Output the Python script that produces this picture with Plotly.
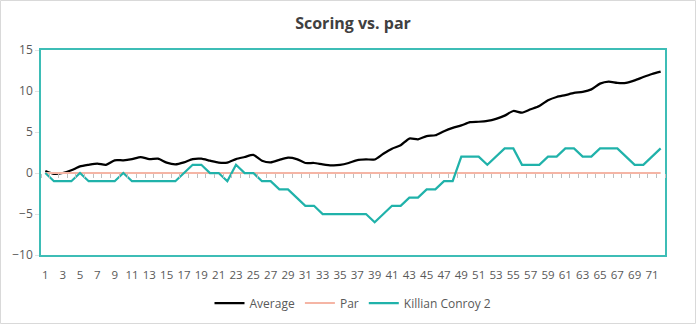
import plotly.graph_objects as go

holes = list(range(1, 73))
average = [0.25, -0.1, 0.0, 0.33, 0.8, 1.0, 1.15, 1.0, 1.55, 1.55, 1.7, 1.95, 1.7, 1.75, 1.27, 1.06, 1.3, 1.7,
           1.75, 1.5, 1.27, 1.27, 1.7, 1.95, 2.2, 1.5, 1.3, 1.6, 1.87, 1.7, 1.22, 1.22, 1.06, 0.94, 0.98, 1.22,
           1.58, 1.66, 1.65, 2.35, 2.97, 3.38, 4.2, 4.1, 4.5, 4.6, 5.1, 5.5, 5.8, 6.2, 6.25, 6.35, 6.6, 7.0,
           7.56, 7.36, 7.77, 8.17, 8.87, 9.27, 9.5, 9.76, 9.9, 10.2, 10.9, 11.15, 11.0, 11.0, 11.3, 11.7, 12.07, 12.37]
par = [0] * 72
killian = [0, -1, -1, -1, 0, -1, -1, -1, -1, 0, -1, -1, -1, -1, -1, -1, 0, 1, 1, 0, 0, -1, 1, 0, 0, -1, -1, -2,
           -2, -3, -4, -4, -5, -5, -5, -5, -5, -5, -6, -5, -4, -4, -3, -3, -2, -2, -1, -1, 2, 2, 2, 1, 2, 3,
           3, 1, 1, 1, 2, 2, 3, 3, 2, 2, 3, 3, 3, 2, 1, 1, 2, 3]
x_labels = list(range(1, 73, 2))
y_ticks = [-10, -5, 0, 5, 10, 15]

TEAL = "#20B2AA"
BORDER = "#3DBDB6"
PAR = "#F5B5A5"
GRAY = "#595959"
FONT = "Open Sans"

fig = go.Figure()
fig.add_trace(go.Scatter(x=holes, y=average, name="Average", mode="lines",
                         line=dict(color="#000000", width=2.25, shape="spline", smoothing=0.6)))
fig.add_trace(go.Scatter(x=holes, y=par, name="Par", mode="lines",
                         line=dict(color=PAR, width=2)))
fig.add_trace(go.Scatter(x=holes, y=killian, name="Killian Conroy 2", mode="lines",
                         line=dict(color=TEAL, width=2.25)))
# invisible trace on second x axis for category-boundary ticks at y=0
fig.add_trace(go.Scatter(x=[0.5, 72.5], y=[0, 0], xaxis="x2", mode="lines",
                         line=dict(width=0), showlegend=False, hoverinfo="skip"))

L, R, T, B = 41, 32, 50, 70
W, H = 697, 325
pw, ph = W - L - R, H - T - B

fig.update_layout(
    width=W, height=H,
    margin=dict(l=L, r=R, t=T, b=B, autoexpand=False),
    paper_bgcolor="white", plot_bgcolor="white",
    font=dict(family=FONT, color=GRAY, size=11),
    title=dict(text="<b>Scoring vs. par</b>", x=0.5, xanchor="center", xref="paper",
               y=1 - 23 / H, yref="container", yanchor="middle",
               font=dict(family=FONT, size=16, color="#404040")),
    xaxis=dict(range=[0.5, 72.5], tickmode="array", tickvals=x_labels, ticktext=[str(v) for v in x_labels],
               showgrid=False, zeroline=False, showline=True, linecolor=BORDER, linewidth=1.5, mirror=True,
               ticks="", ticklabelstandoff=8, tickfont=dict(size=11.5, color=GRAY)),
    xaxis2=dict(range=[0.5, 72.5], overlaying="x", anchor="free", position=0.4, side="bottom",
                tickmode="array", tickvals=[v + 0.5 for v in range(0, 73)], ticks="outside", ticklen=4,
                tickcolor="#BFBFBF", tickwidth=1, showticklabels=False, showgrid=False, zeroline=False,
                showline=False),
    yaxis=dict(range=[-10, 15], tickmode="array", tickvals=y_ticks, showgrid=False, zeroline=False,
               showline=True, linecolor=BORDER, linewidth=1.5, mirror=True, ticks="outside", ticklen=4,
               tickcolor="#E0E0E0", tickfont=dict(size=12, color=GRAY)),
    legend=dict(orientation="h", x=0.5, xanchor="center", xref="paper",
                y=1 - 303 / H, yref="container", yanchor="middle",
                font=dict(size=12, color=GRAY), itemwidth=30, tracegroupgap=0),
    showlegend=True,
    shapes=[dict(type="rect", xref="paper", yref="paper",
                 x0=-(L - 0.5) / pw, x1=(W - L - 1.5) / pw,
                 y0=-(B - 1.5) / ph, y1=1 + (T - 0.5) / ph,
                 line=dict(color="#D9D9D9", width=1), fillcolor="rgba(0,0,0,0)", layer="below")],
)

fig.write_html("out.html")
